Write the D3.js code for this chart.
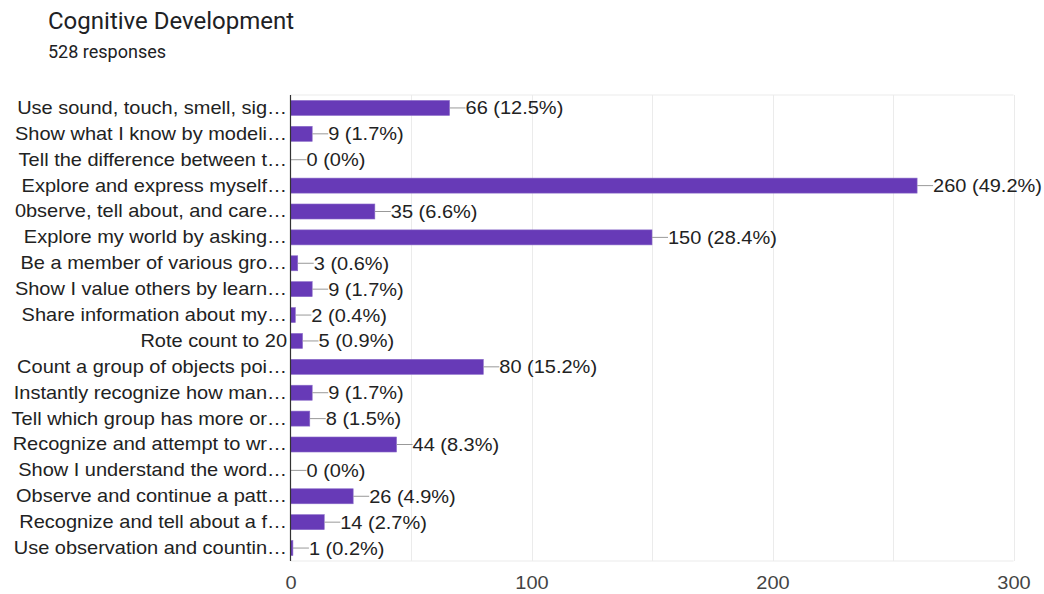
<!DOCTYPE html>
<html><head><meta charset="utf-8">
<script src="https://cdn.jsdelivr.net/npm/d3@7"></script>
<style>body{margin:0;background:#fff;} svg{display:block;}</style>
</head><body>
<svg id="chart" width="1044" height="594"></svg>
<script>
const categories = [
  "Use sound, touch, smell, sig…",
  "Show what I know by modeli…",
  "Tell the difference between t…",
  "Explore and express myself…",
  "0bserve, tell about, and care…",
  "Explore my world by asking…",
  "Be a member of various gro…",
  "Show I value others by learn…",
  "Share information about my…",
  "Rote count to 20",
  "Count a group of objects poi…",
  "Instantly recognize how man…",
  "Tell which group has more or…",
  "Recognize and attempt to wr…",
  "Show I understand the word…",
  "Observe and continue a patt…",
  "Recognize and tell about a f…",
  "Use observation and countin…"
];
const values = [66, 9, 0, 260, 35, 150, 3, 9, 2, 5, 80, 9, 8, 44, 0, 26, 14, 1];
const percents = ["12.5%", "1.7%", "0%", "49.2%", "6.6%", "28.4%", "0.6%", "1.7%", "0.4%", "0.9%", "15.2%", "1.7%", "1.5%", "8.3%", "0%", "4.9%", "2.7%", "0.2%"];
const xTicks = [0, 100, 200, 300];
const gridTicks = [50, 100, 150, 200, 250, 300];

const svg = d3.select("#chart");
const pLeft = 290.5, pRight = 1013.5, pTop = 95, pBottom = 561;
const FONT = "Liberation Sans, Arial, Helvetica, sans-serif";
const FS = 18.5, STRETCH = 1.08;
const x = d3.scaleLinear().domain([0, 300]).range([pLeft, pRight]);
const y = d3.scaleBand().domain(categories).range([pTop, pBottom]).paddingInner(0.42).paddingOuter(0.21);

function widen(sel) {
  sel.each(function () {
    const w = this.getComputedTextLength();
    d3.select(this).attr("textLength", w * STRETCH).attr("lengthAdjust", "spacingAndGlyphs");
  });
}

svg.append("text").attr("x", 48).attr("y", 28.5).text("Cognitive Development")
  .attr("font-family", "Roboto, sans-serif").attr("font-size", 24).attr("fill", "#202124");
svg.append("text").attr("x", 48).attr("y", 58).text("528 responses")
  .attr("font-family", "Roboto, sans-serif").attr("font-size", 18).attr("fill", "#202124");

// plot frame and grid
svg.append("line").attr("x1", pLeft).attr("x2", pRight).attr("y1", pTop).attr("y2", pTop).attr("stroke", "#ebebeb");
svg.append("line").attr("x1", pLeft).attr("x2", pRight).attr("y1", pBottom).attr("y2", pBottom).attr("stroke", "#ebebeb");
svg.append("g").selectAll("line").data(gridTicks).join("line")
  .attr("x1", d => Math.round(x(d)) + 0.5).attr("x2", d => Math.round(x(d)) + 0.5)
  .attr("y1", pTop).attr("y2", pBottom).attr("stroke", "#ebebeb");

// axis tick labels
const xAxis = d3.axisBottom(x).tickValues(xTicks).tickSize(0).tickPadding(0);
const gx = svg.append("g").attr("transform", `translate(0,${pBottom + 28})`).call(xAxis);
gx.select(".domain").remove();
gx.selectAll("text").attr("font-family", FONT).attr("font-size", FS).attr("fill", "#444").attr("dy", "0").call(widen);

// category labels
const yAxis = d3.axisLeft(y).tickSize(0).tickPadding(3);
const gy = svg.append("g").attr("transform", `translate(${pLeft - 0.5},0)`).call(yAxis);
gy.select(".domain").remove();
gy.selectAll("text").attr("font-family", FONT).attr("font-size", FS).attr("fill", "#222").call(widen);

// bars
const data = categories.map((c, i) => ({c, v: values[i], p: percents[i]}));
svg.append("g").selectAll("rect").data(data).join("rect")
  .attr("x", x(0)).attr("y", d => y(d.c))
  .attr("width", d => Math.max(0, x(d.v) - x(0))).attr("height", y.bandwidth())
  .attr("fill", "#673ab7").attr("stroke", d => d.v > 0 ? "#8a6bc8" : "none").attr("stroke-width", 0.6);

// connector lines and value labels
const lab = svg.append("g");
lab.selectAll("line").data(data).join("line")
  .attr("x1", d => x(d.v)).attr("x2", d => x(d.v) + 16)
  .attr("y1", d => y(d.c) + y.bandwidth() / 2).attr("y2", d => y(d.c) + y.bandwidth() / 2)
  .attr("stroke", "#999").attr("stroke-width", 1);
lab.selectAll("text").data(data).join("text")
  .attr("x", d => x(d.v) + 16).attr("y", d => y(d.c) + y.bandwidth() / 2).attr("dy", "0.35em")
  .text(d => `${d.v} (${d.p})`)
  .attr("font-family", FONT).attr("font-size", FS).attr("fill", "#222").call(widen);

// vertical axis line
svg.append("line").attr("x1", pLeft).attr("x2", pLeft).attr("y1", pTop).attr("y2", pBottom).attr("stroke", "#333").attr("stroke-width", 1.2);
</script>
</body></html>
